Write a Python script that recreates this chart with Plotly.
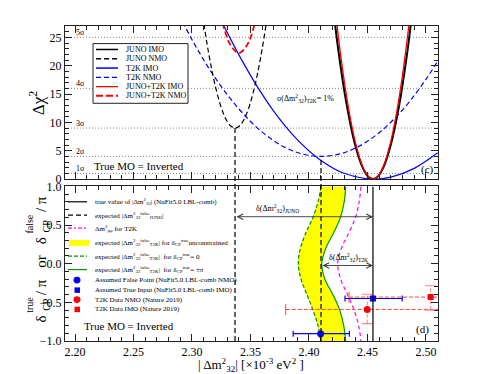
import plotly.graph_objects as go

FONT = "Liberation Serif"

# ---------------- data ----------------
# top panel (c): Δχ² versus |Δm²32| [1e-3 eV²]
juno_imo_x = [2.418, 2.425, 2.432, 2.439, 2.445, 2.450, 2.4547, 2.459, 2.464, 2.470, 2.477, 2.484, 2.491]
juno_imo_y = [35.0, 22.9, 13.4, 6.4, 2.45, 0.57, 0.0, 0.48, 2.25, 6.1, 12.9, 22.3, 34.3]

juno_nmo_x = [2.300, 2.307, 2.314, 2.321, 2.327, 2.332, 2.3368, 2.341, 2.346, 2.352, 2.359, 2.366, 2.373]
juno_nmo_y = [44.2, 32.1, 22.5, 15.5, 11.5, 9.6, 9.0, 9.46, 11.2, 15.0, 21.8, 31.2, 44.0]

t2k_imo_x = [2.31, 2.33, 2.35, 2.37, 2.39, 2.41, 2.43, 2.4547, 2.47, 2.49, 2.51]
t2k_imo_y = [34.9, 25.9, 18.3, 11.95, 6.97, 3.33, 1.02, 0.0, 0.35, 1.89, 4.63]

t2k_nmo_x = [2.28, 2.30, 2.32, 2.34, 2.36, 2.38, 2.395, 2.4103, 2.425, 2.44, 2.46, 2.48, 2.50, 2.51]
t2k_nmo_y = [32.8, 24.6, 17.8, 12.4, 8.28, 5.55, 4.40, 4.0, 4.37, 5.49, 8.18, 12.2, 17.6, 20.8]

comb_imo_x = [2.420, 2.427, 2.434, 2.440, 2.446, 2.450, 2.4547, 2.459, 2.464, 2.470, 2.476, 2.483, 2.490]
comb_imo_y = [34.6, 22.0, 12.3, 6.2, 2.17, 0.63, 0.0, 0.53, 2.48, 6.7, 13.0, 23.0, 35.8]

comb_nmo_x = [2.321, 2.327, 2.333, 2.340, 2.347, 2.353, 2.359]
comb_nmo_y = [32.2, 26.9, 23.6, 22.2, 23.6, 26.9, 32.2]

sigma_levels = [1, 4, 9, 16, 25]
sigma_labels = ["1σ", "2σ", "3σ", "4σ", "5σ"]

true_dm = 2.4547            # true |Δm²32| (NuFit5.0 LBL-comb)
juno_false_dm, juno_false_chi = 2.3368, 9.0
t2k_false_dm, t2k_false_chi = 2.4103, 4.0

# bottom panel (d): δCP/π versus |Δm²32|
delta_grid = [1.0, 0.8, 0.6, 0.4, 0.2, 0.0, -0.2, -0.4, -0.6, -0.8, -1.0]
green_dash_x = [2.4103, 2.4077, 2.4034, 2.3974, 2.3927, 2.3909, 2.3932, 2.3983, 2.4034, 2.4077, 2.4100]
green_solid_x = [2.4314, 2.4301, 2.4269, 2.4211, 2.4144, 2.4109, 2.4136, 2.4205, 2.4263, 2.4297, 2.4314]
magenta_x = [2.4444, 2.4429, 2.4398, 2.4341, 2.4277, 2.4246, 2.4271, 2.4330, 2.4385, 2.4425, 2.4444]

false_pt = dict(x=2.410, d=-0.905, xm=0.0235, xp=0.0245)
true_pt = dict(x=2.4547, d=-0.45, xm=0.0239, xp=0.0250)
t2k_nmo_pt = dict(x=2.4498, d=-0.592, xm=0.0697, xp=0.0697, dm=0.184, dp=0.197)
t2k_imo_pt = dict(x=2.504, d=-0.432, xm=0.0698, xp=0.0698, dm=0.169, dp=0.147)

# ---------------- geometry (page pixels) ----------------
W, H = 484, 374
L, R, T, B = 57, 54, 11, 41
PW, PH = W - L - R, H - T - B
def px(x):
    return (x - L) / PW
def py(y):
    return (H - B - y) / PH

top_dom = [py(167.5), 1.0]
bot_dom = [0.0, py(175)]
XR = [2.19145, 2.5103]
YR_TOP = [0, 27]

BLUE = "rgb(0,0,255)"
RED = "rgb(255,0,0)"
GREEN = "rgb(0,150,0)"
MAG = "rgb(255,0,255)"
YEL = "rgb(255,255,0)"

fig = go.Figure()

def line(x, y, color, width, dash="solid", xa="x", ya="y", shape="spline"):
    fig.add_trace(go.Scatter(x=x, y=y, mode="lines", xaxis=xa, yaxis=ya,
                             line=dict(color=color, width=width, dash=dash, shape=shape),
                             showlegend=False, hoverinfo="skip"))

# top panel curves
line(t2k_nmo_x, t2k_nmo_y, BLUE, 1.2, "5px,3px")
line(t2k_imo_x, t2k_imo_y, BLUE, 1.2)
line(juno_nmo_x, juno_nmo_y, "black", 1.2, "5px,3px")
line(juno_imo_x, juno_imo_y, "black", 2.0)
line(comb_nmo_x, comb_nmo_y, RED, 1.8, "6px,3px")
line(comb_imo_x, comb_imo_y, RED, 1.3)

# bottom panel: yellow band between the two green curves
fig.add_trace(go.Scatter(x=green_dash_x, y=delta_grid, mode="lines", xaxis="x2", yaxis="y2",
                         line=dict(width=0, shape="spline"), showlegend=False, hoverinfo="skip"))
fig.add_trace(go.Scatter(x=green_solid_x, y=delta_grid, mode="lines", xaxis="x2", yaxis="y2",
                         line=dict(width=0, shape="spline"), fill="tonextx", fillcolor=YEL,
                         showlegend=False, hoverinfo="skip"))
line(green_dash_x, delta_grid, GREEN, 1.2, "4px,2px", "x2", "y2")
line(green_solid_x, delta_grid, GREEN, 1.2, "solid", "x2", "y2")
line(magenta_x, delta_grid, MAG, 1.2, "4px,3px", "x2", "y2")

# T2K data points with dashed error bars
for p, sym in [(t2k_nmo_pt, "circle"), (t2k_imo_pt, "square")]:
    fig.add_trace(go.Scatter(x=[p["x"] - p["xm"], p["x"] + p["xp"]], y=[p["d"], p["d"]],
                             mode="lines+markers", xaxis="x2", yaxis="y2",
                             line=dict(color="rgba(255,40,40,0.85)", width=1, dash="4px,2px"),
                             marker=dict(symbol="line-ns-open", size=8,
                                         line=dict(color="rgba(255,40,40,0.85)", width=1)),
                             showlegend=False, hoverinfo="skip"))
    fig.add_trace(go.Scatter(x=[p["x"], p["x"]], y=[p["d"] - p["dm"], p["d"] + p["dp"]],
                             mode="lines+markers", xaxis="x2", yaxis="y2",
                             line=dict(color="rgba(255,120,120,0.9)", width=1, dash="4px,2px"),
                             marker=dict(symbol="line-ew-open", size=8,
                                         line=dict(color="rgba(255,120,120,0.9)", width=1.2)),
                             showlegend=False, hoverinfo="skip"))
    fig.add_trace(go.Scatter(x=[p["x"]], y=[p["d"]], mode="markers", xaxis="x2", yaxis="y2",
                             marker=dict(symbol=sym, size=7 if sym == "circle" else 6, color=RED),
                             showlegend=False, hoverinfo="skip"))

# NuFit points with blue error bars
for p, sym in [(false_pt, "circle"), (true_pt, "square")]:
    fig.add_trace(go.Scatter(x=[p["x"]], y=[p["d"]], mode="markers", xaxis="x2", yaxis="y2",
                             marker=dict(symbol=sym, size=7 if sym == "circle" else 6, color=BLUE),
                             error_x=dict(type="data", symmetric=False, array=[p["xp"]],
                                          arrayminus=[p["xm"]], color=BLUE, thickness=1.2, width=3),
                             showlegend=False, hoverinfo="skip"))

# ---------------- shapes ----------------
shapes = []
for lv in sigma_levels:
    shapes.append(dict(type="line", xref="x domain", yref="y", x0=0, x1=1, y0=lv, y1=lv,
                       line=dict(color="#888", width=1, dash="1px,2px"), layer="below"))

def chi_to_paper(v):
    return top_dom[0] + (v - YR_TOP[0]) / (YR_TOP[1] - YR_TOP[0]) * (top_dom[1] - top_dom[0])

for xv, cv in [(juno_false_dm, juno_false_chi), (t2k_false_dm, t2k_false_chi)]:
    shapes.append(dict(type="line", xref="x", yref="paper", x0=xv, x1=xv, y0=0, y1=chi_to_paper(cv),
                       line=dict(color="black", width=1.2, dash="5px,3px")))
shapes.append(dict(type="line", xref="x2", yref="y2", x0=true_dm, x1=true_dm, y0=-1, y1=1,
                   line=dict(color="black", width=1.2)))

# top legend box
shapes.append(dict(type="rect", xref="paper", yref="paper", x0=px(85), x1=px(180), y0=py(90), y1=py(29),
                   line=dict(color="#222", width=1), fillcolor="white", layer="above"))
top_leg = [("JUNO IMO", "black", "solid", 1.5), ("JUNO NMO", "black", "5px,3px", 1.3),
           ("T2K IMO", BLUE, "solid", 1.5), ("T2K NMO", BLUE, "5px,3px", 1.3),
           ("JUNO+T2K IMO", RED, "solid", 1.3), ("JUNO+T2K NMO", RED, "7px,3px", 2.2)]
top_rows = [35, 44.5, 54, 63.5, 73, 82.3]

annotations = []
for (lab, col, dsh, w), yy in zip(top_leg, top_rows):
    shapes.append(dict(type="line", xref="paper", yref="paper", x0=px(88), x1=px(110), y0=py(yy), y1=py(yy),
                       line=dict(color=col, width=w, dash=dsh), layer="above"))
    annotations.append(dict(text=lab, xref="paper", yref="paper", x=px(116), y=py(yy), xanchor="left",
                            yanchor="middle", showarrow=False, font=dict(family=FONT, size=8, color="black")))

# bottom legend
d32 = "|Δm<sup>2</sup><sub>32</sub><sup>false</sup><sub>T2K</sub>|"
bot_leg = [
    ("line", "black", "solid", "true value of |Δm<sup>2</sup><sub>32</sub>| (NuFit5.0 LBL-comb)"),
    ("line", "black", "5px,3px", "expected |Δm<sup>2</sup><sub>32</sub><sup>false</sup><sub>JUNO</sub>|"),
    ("line", MAG, "4px,2px,2px,2px", "Δm<sup>2</sup><sub>μμ</sub> for T2K"),
    ("band", YEL, None, "expected " + d32 + " for δ<sub>CP</sub><sup>true</sup>unconstrained"),
    ("line", GREEN, "4px,2px", "expected " + d32 + "  for δ<sub>CP</sub><sup>true</sup>= 0"),
    ("line", GREEN, "solid", "expected " + d32 + "  for δ<sub>CP</sub><sup>true</sup>= ±π"),
    ("circle", BLUE, None, "Assumed False Point (NuFit5.0 LBL-comb NMO)"),
    ("square", BLUE, None, "Assumed True Input (NuFit5.0 LBL-comb IMO)"),
    ("circle", RED, None, "T2K Data NMO (Nature 2019)"),
    ("square", RED, None, "T2K Data IMO (Nature 2019)"),
]
bot_rows = [190.7, 204.3, 217.7, 232.7, 246.2, 260, 270.7, 281, 290.7, 300.7]
for (kind, col, dsh, lab), yy in zip(bot_leg, bot_rows):
    if kind == "line":
        shapes.append(dict(type="line", xref="paper", yref="paper", x0=px(60), x1=px(79), y0=py(yy), y1=py(yy),
                           line=dict(color=col, width=1.2, dash=dsh), layer="above"))
    elif kind == "band":
        shapes.append(dict(type="rect", xref="paper", yref="paper", x0=px(61), x1=px(81), y0=py(yy + 3),
                           y1=py(yy - 3), line=dict(width=0), fillcolor=col, layer="above"))
    elif kind == "circle":
        shapes.append(dict(type="circle", xref="paper", yref="paper", x0=px(65.5), x1=px(72.5),
                           y0=py(yy + 3.5), y1=py(yy - 3.5), line=dict(width=0), fillcolor=col, layer="above"))
    else:
        shapes.append(dict(type="rect", xref="paper", yref="paper", x0=px(66.5), x1=px(72),
                           y0=py(yy + 2.8), y1=py(yy - 2.8), line=dict(width=0), fillcolor=col, layer="above"))
    annotations.append(dict(text=lab, xref="paper", yref="paper", x=px(85), y=py(yy), xanchor="left",
                            yanchor="middle", showarrow=False, font=dict(family=FONT, size=7, color="black")))

# sigma labels
for lv, lab in zip(sigma_levels, sigma_labels):
    annotations.append(dict(text=lab, xref="x", yref="y", x=2.2047, y=lv, yshift=5, showarrow=False,
                            xanchor="center", yanchor="middle", font=dict(family=FONT, size=8, color="black")))

def txt(t, x, y, size, xref="x", yref="y", **kw):
    d = dict(text=t, xref=xref, yref=yref, x=x, y=y, showarrow=False, xanchor="center", yanchor="middle",
             font=dict(family=FONT, size=size, color="black"))
    d.update(kw)
    annotations.append(d)

txt("True MO = Inverted", 2.2543, 2.3, 11)
txt("σ(Δm<sup>2</sup><sub>32</sub>)<sub>T2K</sub>= 1%", 2.3974, 14.2, 8)
txt("(c)", 2.5009, 1.7, 11)
txt("True MO = Inverted", 2.2462, -0.80, 11, "x2", "y2")
txt("(d)", 2.4974, -0.853, 11, "x2", "y2")
txt("δ(Δm<sup>2</sup><sub>32</sub>)<sub>JUNO</sub>", 2.3735, 0.72, 8, "x2", "y2")
txt("δ(Δm<sup>2</sup><sub>32</sub>)<sub>T2K</sub>", 2.4335, 0.075, 8, "x2", "y2")

# double arrows
for x0, yv in [(juno_false_dm, 0.608), (t2k_false_dm, -0.023)]:
    annotations.append(dict(x=true_dm, y=yv, ax=x0, ay=yv, xref="x2", yref="y2", axref="x2", ayref="y2",
                            text="", showarrow=True, arrowhead=5, startarrowhead=5, arrowside="end+start",
                            arrowsize=1.2, startarrowsize=1.2, arrowwidth=0.9, arrowcolor="#333",
                            standoff=0, startstandoff=0))

# axis titles
txt("Δχ<sup>2</sup>", px(29), py(90), 17, "paper", "paper", textangle=-90)
# bottom y title built from pieces so that sub/superscripts stack as in the reference
for t, xx, yy, sz in [("δ", 33, 311, 15), ("CP", 39, 296, 10), ("true", 22, 296, 10), ("/ π", 33, 278, 15),
                      ("or", 33, 252, 15), ("δ", 33, 231, 15), ("CP", 39, 216, 10), ("false", 22, 214, 10),
                      ("/ π", 33, 193, 15)]:
    txt(t, px(xx), py(yy), sz, "paper", "paper", textangle=-90)
txt("| Δm<sup>2</sup><sub>32</sub>| [×10<sup>-3</sup> eV<sup>2</sup> ]", px(243), py(357.5), 13, "paper", "paper")

axc = dict(showline=True, linecolor="#222", linewidth=1, mirror="ticks", ticks="inside", ticklen=7,
           tickwidth=1, tickcolor="#222", showgrid=False, zeroline=False,
           tickfont=dict(family=FONT, size=12, color="black"))

fig.update_layout(
    width=W, height=H, margin=dict(l=L, r=R, t=T, b=B), paper_bgcolor="white", plot_bgcolor="white",
    showlegend=False,
    xaxis=dict(axc, range=XR, tick0=2.2, dtick=0.05, showticklabels=False, anchor="y",
               minor=dict(ticks="inside", ticklen=4, dtick=0.01, tickcolor="#222", showgrid=False)),
    yaxis=dict(axc, range=YR_TOP, domain=top_dom, tick0=0, dtick=5, anchor="x",
               minor=dict(ticks="inside", ticklen=4, dtick=1, tickcolor="#222", showgrid=False)),
    xaxis2=dict(axc, range=XR, tick0=2.2, dtick=0.05, tickformat=".2f", anchor="y2", matches="x",
                minor=dict(ticks="inside", ticklen=4, dtick=0.01, tickcolor="#222", showgrid=False)),
    yaxis2=dict(axc, range=[-1, 1], domain=bot_dom, tick0=-1, dtick=0.5, tickformat=".1f", anchor="x2",
                minor=dict(ticks="inside", ticklen=4, dtick=0.1, tickcolor="#222", showgrid=False)),
    shapes=shapes, annotations=annotations,
)

fig.write_html("out.html")
